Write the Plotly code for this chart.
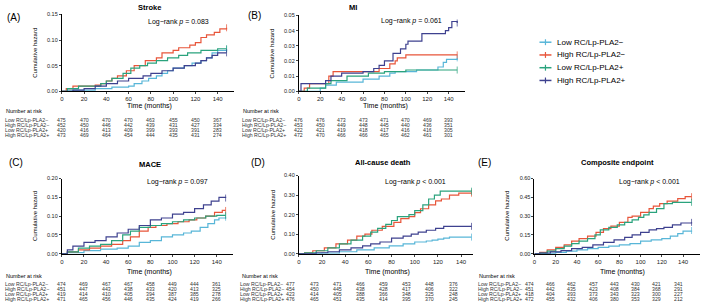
import plotly.graph_objects as go

W, H = 709, 307
FONT = "Liberation Sans, Arial, sans-serif"

group_names = ["Low RC/Lp-PLA2\u2212", "High RC/Lp-PLA2\u2212", "Low RC/Lp-PLA2+", "High RC/Lp-PLA2+"]
group_colors = ["#58B6D8", "#E8553A", "#2AA37D", "#3E418F"]
risk_times = [0, 20, 40, 60, 80, 100, 120, 140]

# ---------- Stroke ----------
stroke_t_lowneg = [0, 5, 30, 45, 60, 65, 72, 78, 85, 90, 95, 100, 110, 117, 125, 130, 135, 140, 148]
stroke_h_lowneg = [0, 0.002, 0.005, 0.008, 0.010, 0.015, 0.020, 0.025, 0.030, 0.035, 0.040, 0.045, 0.050, 0.055, 0.060, 0.065, 0.075, 0.080, 0.082]
stroke_t_highneg = [0, 4, 10, 30, 35, 40, 45, 50, 58, 65, 75, 85, 90, 100, 105, 115, 120, 125, 130, 137, 142, 148]
stroke_h_highneg = [0, 0.005, 0.010, 0.012, 0.015, 0.020, 0.025, 0.030, 0.040, 0.050, 0.060, 0.065, 0.075, 0.080, 0.085, 0.090, 0.095, 0.105, 0.110, 0.115, 0.122, 0.124]
stroke_t_lowpos = [0, 5, 15, 35, 40, 45, 55, 62, 70, 77, 85, 95, 105, 113, 125, 140, 148]
stroke_h_lowpos = [0, 0.005, 0.010, 0.015, 0.020, 0.025, 0.035, 0.045, 0.050, 0.055, 0.060, 0.065, 0.070, 0.075, 0.080, 0.083, 0.083]
stroke_t_highpos = [0, 10, 20, 30, 40, 50, 60, 73, 80, 90, 100, 110, 120, 125, 130, 135, 140, 148]
stroke_h_highpos = [0, 0.002, 0.005, 0.010, 0.015, 0.020, 0.025, 0.030, 0.035, 0.040, 0.045, 0.050, 0.055, 0.060, 0.065, 0.070, 0.075, 0.075]
stroke_risk_lowneg = [475, 470, 470, 470, 463, 455, 450, 367]
stroke_risk_highneg = [452, 450, 446, 442, 439, 431, 427, 334]
stroke_risk_lowpos = [420, 416, 413, 409, 399, 393, 391, 283]
stroke_risk_highpos = [473, 469, 464, 454, 444, 435, 431, 274]

# ---------- MI ----------
mi_t_lowneg = [0, 20, 25, 35, 60, 75, 85, 90, 110, 130, 135, 138, 148]
mi_h_lowneg = [0, 0.002, 0.004, 0.006, 0.008, 0.010, 0.012, 0.013, 0.014, 0.016, 0.019, 0.021, 0.022]
mi_t_highneg = [0, 5, 10, 28, 32, 70, 75, 85, 90, 92, 100, 148]
mi_h_highneg = [0, 0.002, 0.005, 0.010, 0.013, 0.013, 0.015, 0.018, 0.020, 0.022, 0.024, 0.024]
mi_t_lowpos = [0, 8, 25, 30, 45, 65, 80, 100, 148]
mi_h_lowpos = [0, 0.002, 0.005, 0.007, 0.010, 0.012, 0.013, 0.014, 0.014]
mi_t_highpos = [0, 2, 25, 30, 40, 60, 70, 75, 80, 88, 95, 100, 102, 115, 137, 140, 143, 148]
mi_h_highpos = [0, 0.005, 0.007, 0.010, 0.012, 0.013, 0.015, 0.017, 0.020, 0.025, 0.028, 0.031, 0.033, 0.038, 0.040, 0.042, 0.046, 0.045]
mi_risk_lowneg = [476, 476, 473, 473, 471, 470, 469, 393]
mi_risk_highneg = [453, 450, 449, 448, 445, 440, 436, 351]
mi_risk_lowpos = [422, 421, 419, 418, 417, 416, 416, 305]
mi_risk_highpos = [472, 470, 466, 466, 465, 462, 461, 301]

# ---------- MACE ----------
mace_t_lowneg = [0, 5, 20, 35, 50, 60, 70, 80, 90, 100, 110, 117, 125, 132, 138, 142, 148]
mace_h_lowneg = [0, 0.003, 0.008, 0.012, 0.015, 0.020, 0.030, 0.035, 0.045, 0.050, 0.055, 0.060, 0.070, 0.080, 0.090, 0.095, 0.097]
mace_t_highneg = [0, 5, 15, 25, 35, 45, 55, 62, 70, 78, 85, 95, 105, 115, 122, 130, 138, 145, 148]
mace_h_highneg = [0, 0.005, 0.010, 0.015, 0.020, 0.025, 0.035, 0.045, 0.060, 0.070, 0.075, 0.080, 0.085, 0.090, 0.095, 0.100, 0.110, 0.115, 0.115]
mace_t_lowpos = [0, 5, 15, 25, 35, 45, 55, 62, 70, 80, 90, 100, 110, 120, 130, 140, 148]
mace_h_lowpos = [0, 0.005, 0.015, 0.020, 0.025, 0.035, 0.050, 0.060, 0.070, 0.075, 0.080, 0.085, 0.090, 0.095, 0.100, 0.102, 0.102]
mace_t_highpos = [0, 5, 10, 20, 30, 40, 50, 60, 70, 80, 90, 100, 110, 120, 128, 135, 142, 148]
mace_h_highpos = [0, 0.010, 0.020, 0.030, 0.035, 0.045, 0.055, 0.065, 0.075, 0.090, 0.095, 0.105, 0.110, 0.120, 0.130, 0.140, 0.150, 0.148]
mace_risk_lowneg = [474, 469, 467, 467, 458, 449, 444, 361]
mace_risk_highneg = [451, 447, 443, 438, 433, 420, 413, 325]
mace_risk_lowpos = [419, 414, 410, 405, 394, 387, 385, 278]
mace_risk_highpos = [471, 465, 456, 446, 435, 424, 419, 266]

# ---------- All-cause death ----------
death_t_lowneg = [0, 20, 35, 50, 65, 78, 90, 100, 110, 115, 120, 125, 130, 149]
death_h_lowneg = [0, 0.003, 0.010, 0.020, 0.030, 0.040, 0.050, 0.060, 0.065, 0.070, 0.075, 0.080, 0.085, 0.085]
death_t_highneg = [0, 5, 12, 22, 32, 42, 50, 57, 63, 72, 78, 82, 88, 95, 100, 105, 112, 118, 123, 130, 138, 149]
death_h_highneg = [0, 0.005, 0.015, 0.030, 0.050, 0.070, 0.090, 0.100, 0.120, 0.140, 0.140, 0.160, 0.180, 0.190, 0.210, 0.230, 0.250, 0.270, 0.280, 0.300, 0.310, 0.310]
death_t_lowpos = [0, 5, 15, 25, 35, 45, 55, 62, 68, 75, 80, 85, 92, 95, 100, 107, 112, 117, 122, 149]
death_h_lowpos = [0, 0.005, 0.015, 0.030, 0.050, 0.070, 0.090, 0.110, 0.130, 0.150, 0.170, 0.190, 0.190, 0.200, 0.220, 0.250, 0.280, 0.300, 0.320, 0.320]
death_t_highpos = [0, 15, 25, 35, 45, 55, 62, 70, 80, 90, 97, 103, 110, 118, 125, 149]
death_h_highpos = [0, 0.005, 0.010, 0.020, 0.030, 0.040, 0.050, 0.060, 0.080, 0.090, 0.100, 0.110, 0.120, 0.130, 0.140, 0.140]
death_risk_lowneg = [477, 473, 471, 466, 459, 453, 448, 376]
death_risk_highneg = [454, 450, 445, 438, 428, 417, 406, 322]
death_risk_lowpos = [423, 414, 405, 388, 366, 348, 325, 248]
death_risk_highpos = [476, 465, 451, 435, 414, 395, 370, 245]

# ---------- Composite endpoint ----------
comp_t_lowneg = [0, 10, 20, 30, 40, 50, 60, 70, 80, 90, 100, 110, 120, 128, 135, 140, 148]
comp_h_lowneg = [0, 0.003, 0.010, 0.020, 0.030, 0.040, 0.050, 0.060, 0.070, 0.080, 0.100, 0.110, 0.120, 0.140, 0.160, 0.180, 0.185]
comp_t_highneg = [0, 5, 12, 20, 28, 35, 42, 50, 58, 65, 72, 80, 88, 92, 100, 108, 112, 118, 125, 135, 142, 148]
comp_h_highneg = [0, 0.010, 0.030, 0.050, 0.070, 0.100, 0.120, 0.140, 0.170, 0.200, 0.220, 0.250, 0.290, 0.300, 0.330, 0.360, 0.380, 0.400, 0.420, 0.440, 0.455, 0.455]
comp_t_lowpos = [0, 5, 12, 20, 28, 35, 42, 50, 57, 62, 70, 78, 85, 92, 98, 103, 108, 115, 122, 130, 148]
comp_h_lowpos = [0, 0.005, 0.020, 0.040, 0.060, 0.080, 0.100, 0.120, 0.150, 0.190, 0.210, 0.230, 0.250, 0.270, 0.290, 0.310, 0.330, 0.360, 0.400, 0.410, 0.410]
comp_t_highpos = [0, 5, 15, 25, 35, 45, 55, 65, 75, 85, 92, 100, 108, 115, 122, 130, 138, 148]
comp_h_highpos = [0, 0.005, 0.015, 0.025, 0.040, 0.050, 0.070, 0.090, 0.110, 0.130, 0.150, 0.170, 0.190, 0.200, 0.210, 0.230, 0.245, 0.250]
comp_risk_lowneg = [474, 466, 462, 457, 443, 430, 421, 341]
comp_risk_highneg = [451, 442, 435, 423, 408, 384, 368, 291]
comp_risk_lowpos = [418, 404, 393, 373, 343, 323, 300, 227]
comp_risk_highpos = [472, 455, 432, 406, 380, 353, 329, 212]


def px_x(p):
    return p / W


def px_y(p):
    return 1 - p / H


TOP_ROWS = [119.5, 124.5, 129.5, 134.5]
BOT_ROWS = [286.5, 291.5, 296.5, 301.5]

panels = [
    dict(key="A", title="Stroke", p="Log\u2212rank <i>p</i> = 0.083",
         curves=[(stroke_t_lowneg, stroke_h_lowneg), (stroke_t_highneg, stroke_h_highneg),
                 (stroke_t_lowpos, stroke_h_lowpos), (stroke_t_highpos, stroke_h_highpos)],
         risk=[stroke_risk_lowneg, stroke_risk_highneg, stroke_risk_lowpos, stroke_risk_highpos],
         xdom=(60, 233), ydom=(11.7, 90), xmax=155, yticks=[0, 0.05, 0.10, 0.15],
         lab=(3, 15), tit=(148, 5), lr=(144, 19), tm=(148, 105), nar=(2, 110), riskx=2,
         rows=TOP_ROWS, rshift=0, ytit=33),
    dict(key="B", title="MI", p="Log\u2212rank <i>p</i> = 0.061",
         curves=[(mi_t_lowneg, mi_h_lowneg), (mi_t_highneg, mi_h_highneg),
                 (mi_t_lowpos, mi_h_lowpos), (mi_t_highpos, mi_h_highpos)],
         risk=[mi_risk_lowneg, mi_risk_highneg, mi_risk_lowpos, mi_risk_highpos],
         xdom=(297.7, 464), ydom=(12.7, 90), xmax=155, yticks=[0, 0.01, 0.02, 0.03, 0.04, 0.05],
         lab=(245, 13), tit=(352, 5), lr=(378, 18), tm=(385, 105), nar=(240, 110), riskx=240,
         rows=TOP_ROWS, rshift=0, ytit=271),
    dict(key="C", title="MACE", p="Log\u2212rank <i>p</i> = 0.097",
         curves=[(mace_t_lowneg, mace_h_lowneg), (mace_t_highneg, mace_h_highneg),
                 (mace_t_lowpos, mace_h_lowpos), (mace_t_highpos, mace_h_highpos)],
         risk=[mace_risk_lowneg, mace_risk_highneg, mace_risk_lowpos, mace_risk_highpos],
         xdom=(60, 232), ydom=(179, 255.7), xmax=155, yticks=[0, 0.05, 0.10, 0.15, 0.20],
         lab=(5, 163), tit=(148, 165), lr=(143, 183), tm=(148, 274), nar=(2, 278.5), riskx=2,
         rows=BOT_ROWS, rshift=0, ytit=33),
    dict(key="D", title="All-cause death", p="Log\u2212rank <i>p</i> < 0.001",
         curves=[(death_t_lowneg, death_h_lowneg), (death_t_highneg, death_h_highneg),
                 (death_t_lowpos, death_h_lowpos), (death_t_highpos, death_h_highpos)],
         risk=[death_risk_lowneg, death_risk_highneg, death_risk_lowpos, death_risk_highpos],
         xdom=(297.7, 472), ydom=(176, 255.7), xmax=150, yticks=[0, 0.1, 0.2, 0.3, 0.4],
         lab=(248, 163), tit=(382, 163), lr=(382, 183), tm=(387, 274), nar=(239, 278.5), riskx=238,
         rows=BOT_ROWS, rshift=-8, ytit=271),
    dict(key="E", title="Composite endpoint", p="Log\u2212rank <i>p</i> < 0.001",
         curves=[(comp_t_lowneg, comp_h_lowneg), (comp_t_highneg, comp_h_highneg),
                 (comp_t_lowpos, comp_h_lowpos), (comp_t_highpos, comp_h_highpos)],
         risk=[comp_risk_lowneg, comp_risk_highneg, comp_risk_lowpos, comp_risk_highpos],
         xdom=(534, 700), ydom=(179, 255.7), xmax=156, yticks=[0, 0.15, 0.30, 0.45, 0.60],
         lab=(475, 163), tit=(617, 163), lr=(617, 183), tm=(622, 274), nar=(476, 278.5), riskx=476,
         rows=BOT_ROWS, rshift=-5, ytit=507),
]

fig = go.Figure()
annotations = []
shapes = []
layout_axes = {}
RISK_FONT = dict(size=5.2, family=FONT, color="#333")

for i, pn in enumerate(panels):
    n = i + 1
    xa = "x" if n == 1 else f"x{n}"
    ya = "y" if n == 1 else f"y{n}"
    xkey = "xaxis" if n == 1 else f"xaxis{n}"
    ykey = "yaxis" if n == 1 else f"yaxis{n}"
    for g, (t, h) in enumerate(pn["curves"]):
        # censoring tick drawn on the last observation of each curve
        sizes = [0] * (len(t) - 1) + [5]
        fig.add_trace(go.Scatter(x=t, y=h, mode="lines+markers",
                                 line=dict(color=group_colors[g], width=1.2, shape="hv"),
                                 marker=dict(symbol="line-ns", size=sizes,
                                             line=dict(color=group_colors[g], width=1)),
                                 xaxis=xa, yaxis=ya, showlegend=False, hoverinfo="skip"))
    ymax = pn["yticks"][-1]
    layout_axes[xkey] = dict(domain=[px_x(pn["xdom"][0]), px_x(pn["xdom"][1])], range=[0, pn["xmax"]],
                             anchor=ya, tickvals=risk_times, ticks="outside", ticklen=2, tickwidth=0.8,
                             showline=True, linecolor="black", linewidth=1, showgrid=False, zeroline=False,
                             tickfont=dict(size=6, family=FONT, color="#222"))
    layout_axes[ykey] = dict(domain=[px_y(pn["ydom"][1]), px_y(pn["ydom"][0])], range=[0, ymax],
                             anchor=xa, tickvals=pn["yticks"], tickformat=".2f", ticks="outside", ticklen=2,
                             tickwidth=0.8, showline=True, linecolor="black", linewidth=1, showgrid=False,
                             zeroline=False, tickfont=dict(size=5.5, family=FONT, color="#222"))
    annotations.append(dict(text=f"({pn['key']})", x=px_x(pn["lab"][0]), y=px_y(pn["lab"][1]), xref="paper",
                            yref="paper", xanchor="left", yanchor="middle", showarrow=False,
                            font=dict(size=10, family=FONT, color="black")))
    annotations.append(dict(text=f"<b>{pn['title']}</b>", x=px_x(pn["tit"][0]), y=px_y(pn["tit"][1]), xref="paper",
                            yref="paper", xanchor="center", yanchor="middle", showarrow=False,
                            font=dict(size=7.5, family=FONT, color="black")))
    annotations.append(dict(text=pn["p"], x=px_x(pn["lr"][0]), y=px_y(pn["lr"][1]), xref="paper",
                            yref="paper", xanchor="left", yanchor="middle", showarrow=False,
                            font=dict(size=7, family=FONT, color="black")))
    annotations.append(dict(text="Time (months)", x=px_x(pn["tm"][0]), y=px_y(pn["tm"][1]), xref="paper",
                            yref="paper", xanchor="center", yanchor="middle", showarrow=False,
                            font=dict(size=7, family=FONT, color="black")))
    annotations.append(dict(text="Number at risk", x=px_x(pn["nar"][0]), y=px_y(pn["nar"][1]), xref="paper",
                            yref="paper", xanchor="left", yanchor="middle", showarrow=False,
                            font=dict(size=5.5, family=FONT, color="black")))
    ymid = (pn["ydom"][0] + pn["ydom"][1]) / 2
    annotations.append(dict(text="Cumulative hazard", x=px_x(pn["ytit"]), y=px_y(ymid), xref="paper",
                            yref="paper", xanchor="center", yanchor="middle", showarrow=False, textangle=-90,
                            font=dict(size=6, family=FONT, color="black")))
    for g, row in enumerate(pn["risk"]):
        ry = px_y(pn["rows"][g])
        annotations.append(dict(text=group_names[g], x=px_x(pn["riskx"]), y=ry, xref="paper", yref="paper",
                                xanchor="left", yanchor="middle", showarrow=False, borderpad=0, font=RISK_FONT))
        for t, v in zip(risk_times, row):
            annotations.append(dict(text=str(v), x=t, y=ry, xref=xa, yref="paper", xanchor="center",
                                    yanchor="middle", xshift=pn["rshift"], showarrow=False, borderpad=0,
                                    font=RISK_FONT))

# legend (drawn as key glyphs + labels, compact like the reference)
LEG_X0, LEG_X1, LEG_TXT = 539, 551, 556
LEG_ROWS = [40, 53, 66, 79]
for g in range(4):
    yy = px_y(LEG_ROWS[g])
    shapes.append(dict(type="line", xref="paper", yref="paper", x0=px_x(LEG_X0), x1=px_x(LEG_X1), y0=yy, y1=yy,
                       line=dict(color=group_colors[g], width=1.5)))
    xm = (LEG_X0 + LEG_X1) / 2
    shapes.append(dict(type="line", xref="paper", yref="paper", x0=px_x(xm), x1=px_x(xm),
                       y0=px_y(LEG_ROWS[g] - 3), y1=px_y(LEG_ROWS[g] + 3),
                       line=dict(color=group_colors[g], width=1.2)))
    annotations.append(dict(text=group_names[g], x=px_x(LEG_TXT), y=yy, xref="paper", yref="paper",
                            xanchor="left", yanchor="middle", showarrow=False, borderpad=0,
                            font=dict(size=8, family=FONT, color="black")))

fig.update_layout(
    width=W, height=H, margin=dict(l=0, r=0, t=0, b=0),
    paper_bgcolor="white", plot_bgcolor="white",
    font=dict(family=FONT, color="black"),
    annotations=annotations, shapes=shapes, showlegend=False,
    **layout_axes,
)

fig.write_html("out.html", config={"displayModeBar": False},
               post_script="document.body.style.margin='0';")
